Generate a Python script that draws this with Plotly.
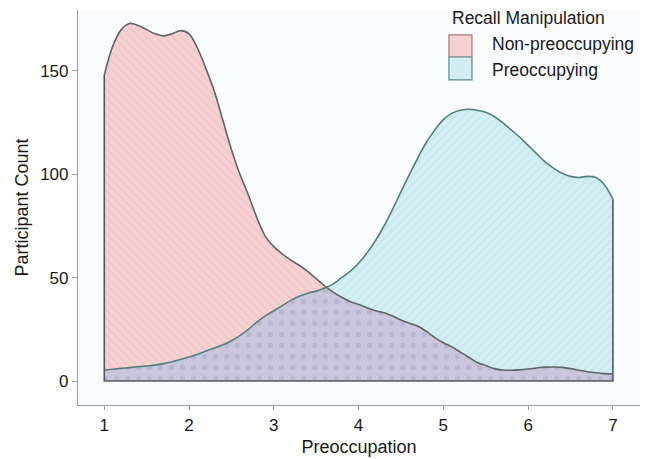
import numpy as np
import plotly.graph_objects as go

# Density of preoccupation ratings, expressed as participant counts
preoccupation = [round(1.0 + 0.1 * i, 1) for i in range(61)]

non_preoccupying = [
    148, 162, 170, 173, 172, 170, 168, 167, 168, 169.5,
    168, 161, 151, 140, 126, 112, 100, 90, 79, 70,
    65, 61.5, 58.5, 56, 53, 49.5, 46, 43, 40.5, 38.5,
    37, 35.5, 34, 33, 31.5, 29.5, 28, 26.5, 24, 21,
    18.5, 16.5, 14, 11.5, 9, 7.5, 6, 5.3, 5.2, 5.4,
    5.8, 6.3, 6.7, 6.8, 6.6, 6.0, 5.2, 4.5, 4.0, 3.6,
    3.4,
]

preoccupying = [
    5.3, 5.7, 6.1, 6.5, 6.9, 7.3, 7.7, 8.4, 9.3, 10.4,
    11.6, 13, 14.5, 16, 17.5, 19.5, 22, 25, 28.5, 31.5,
    34, 36.5, 39, 41, 42.5, 43.5, 45, 47, 50, 53,
    57, 62, 68, 75, 83, 91.5, 100, 108, 115.5, 121.5,
    126.5, 129.5, 131, 131.5, 131, 130, 128, 125, 121.5, 118,
    114, 110, 106, 103, 100.5, 99, 98.5, 99, 98.5, 95,
    88,
]

groups = ["Non-preoccupying", "Preoccupying"]
x_ticks = [1, 2, 3, 4, 5, 6, 7]
y_ticks = [0, 50, 100, 150]

overlap = np.minimum(non_preoccupying, preoccupying).tolist()

PINK_BG, PINK_FG, PINK_LINE = "#f6d1d2", "#eebfc2", "#5d6566"
CYAN_BG, CYAN_FG, CYAN_LINE = "#d4eef3", "#bde2ea", "#53807f"
PURP_BG, PURP_FG = "#cac7dc", "#a5a5c6"

SMOOTH = dict(shape="spline", smoothing=1.0)

fig = go.Figure()

# filled areas
fig.add_trace(go.Scatter(
    x=preoccupation, y=non_preoccupying, mode="none", fill="tozeroy",
    fillcolor=PINK_BG, line=SMOOTH,
    fillpattern=dict(shape="\\", fgcolor=PINK_FG, bgcolor=PINK_BG, size=6, solidity=0.35),
    showlegend=False, hoverinfo="skip"))
fig.add_trace(go.Scatter(
    x=preoccupation, y=preoccupying, mode="none", fill="tozeroy",
    fillcolor=CYAN_BG, line=SMOOTH,
    fillpattern=dict(shape="/", fgcolor=CYAN_FG, bgcolor=CYAN_BG, size=6, solidity=0.35),
    showlegend=False, hoverinfo="skip"))
fig.add_trace(go.Scatter(
    x=preoccupation, y=overlap, mode="none", fill="tozeroy",
    fillcolor=PURP_BG, line=SMOOTH,
    fillpattern=dict(shape=".", fgcolor=PURP_FG, bgcolor=PURP_BG, size=11, solidity=0.18),
    showlegend=False, hoverinfo="skip"))

# outlines of both density curves
fig.add_trace(go.Scatter(
    x=preoccupation, y=non_preoccupying, mode="lines",
    line=dict(color=PINK_LINE, width=1.6, **SMOOTH),
    showlegend=False, hoverinfo="skip"))
fig.add_trace(go.Scatter(
    x=preoccupation, y=preoccupying, mode="lines",
    line=dict(color=CYAN_LINE, width=1.6, **SMOOTH),
    showlegend=False, hoverinfo="skip"))

# closing edges at both ends and along the baseline
x0, x1 = preoccupation[0], preoccupation[-1]
fig.add_trace(go.Scatter(
    x=[x0, x0, x1, x1], y=[non_preoccupying[0], 0, 0, preoccupying[-1]],
    mode="lines", line=dict(color="#505a5c", width=1.6),
    showlegend=False, hoverinfo="skip"))

font_family = "Liberation Sans, Arial, sans-serif"

fig.update_layout(
    width=650, height=459,
    margin=dict(l=78, r=10, t=10, b=54),
    paper_bgcolor="white",
    plot_bgcolor="#fafbfd",
    font=dict(family=font_family, size=17, color="#1a1a1a"),
    showlegend=False,
    xaxis=dict(
        range=[0.69, 7.32], tickvals=x_ticks, ticktext=[str(v) for v in x_ticks],
        showgrid=False, zeroline=False, showline=True, linecolor="#8fa3a8", linewidth=1.2,
        ticks="outside", ticklen=4, tickcolor="#a0a0a0", automargin=False,
        title=dict(text="Preoccupation", standoff=6, font=dict(size=18)),
        tickfont=dict(size=17, color="#1a1a1a")),
    yaxis=dict(
        range=[-11.6, 179.5], tickvals=y_ticks, ticktext=[str(v) for v in y_ticks],
        showgrid=False, zeroline=False, showline=True, linecolor="#8fa3a8", linewidth=1.2,
        ticks="outside", ticklen=5, tickcolor="#a0a0a0", automargin=False,
        title=dict(text="Participant Count", standoff=6, font=dict(size=18)),
        tickfont=dict(size=17, color="#1a1a1a")),
)

# legend drawn as swatches with labels
fig.add_annotation(xref="paper", yref="paper", x=0.662, y=0.980, xanchor="left", yanchor="middle",
                   text="Recall Manipulation", showarrow=False, font=dict(size=17.5))
swatches = [(PINK_BG, "#a77a7c", 0.937, 0.881, 0.914), (CYAN_BG, "#5f8c8e", 0.881, 0.823, 0.848)]
for (fill, edge, top, bottom, label_y), label in zip(swatches, groups):
    fig.add_shape(type="rect", xref="paper", yref="paper", x0=0.660, x1=0.701,
                  y0=bottom, y1=top, fillcolor=fill, line=dict(color=edge, width=1.2))
    fig.add_annotation(xref="paper", yref="paper", x=0.733, y=label_y,
                       xanchor="left", yanchor="middle", text=label, showarrow=False,
                       font=dict(size=17.5))

fig.write_html("out.html")
